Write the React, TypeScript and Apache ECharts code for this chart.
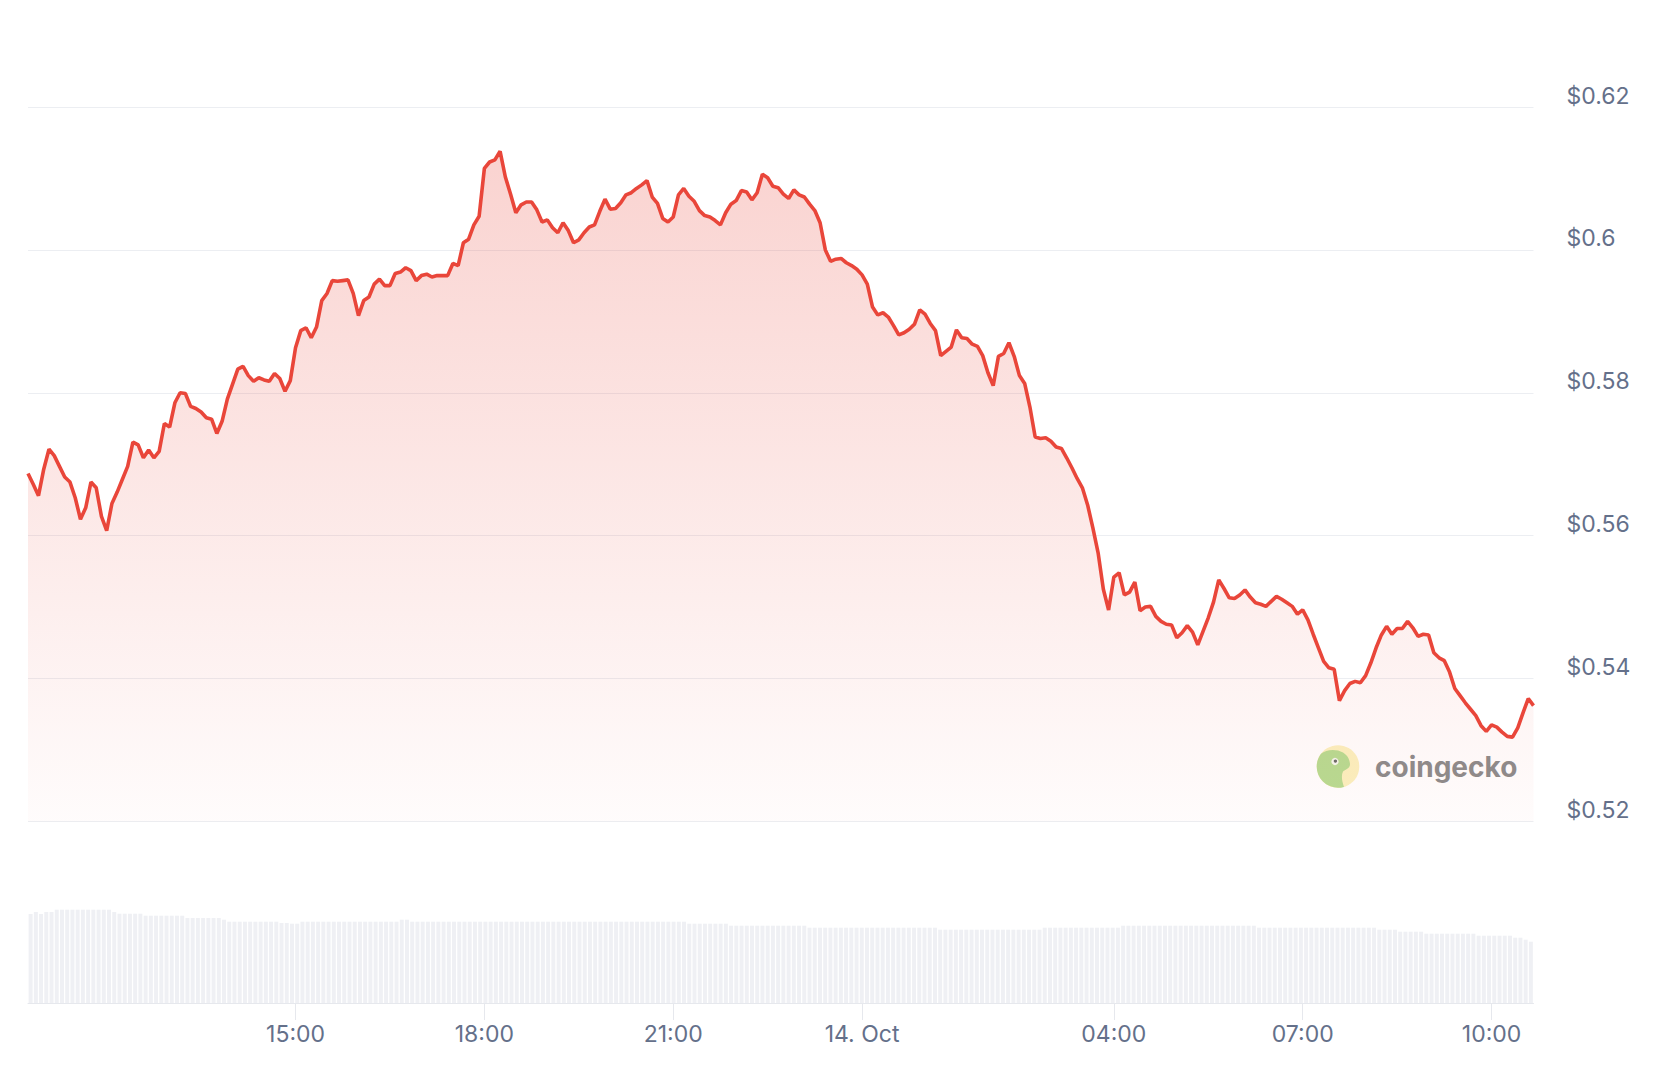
import React, { useEffect, useRef } from 'react';
import * as echarts from 'echarts';

// Price (USD), one point every 5 minutes from 13 Oct 10:45 to 14 Oct 10:40
const price = [
  0.5687, 0.5672, 0.5656, 0.5693, 0.5721, 0.5712, 0.5697, 0.5682, 0.5675, 0.5653,
  0.5623, 0.5639, 0.5675, 0.5667, 0.5627, 0.5607, 0.5645, 0.5661, 0.5679, 0.5697,
  0.5731, 0.5727, 0.5709, 0.5720, 0.5709, 0.5718, 0.5757, 0.5752, 0.5786, 0.5800,
  0.5799, 0.5781, 0.5778, 0.5773, 0.5765, 0.5763, 0.5743, 0.5760, 0.5791, 0.5812,
  0.5833, 0.5837, 0.5824, 0.5816, 0.5821, 0.5818, 0.5816, 0.5827, 0.5820, 0.5802,
  0.5817, 0.5863, 0.5887, 0.5891, 0.5877, 0.5892, 0.5929, 0.5939, 0.5957, 0.5956,
  0.5957, 0.5958, 0.5939, 0.5908, 0.5929, 0.5934, 0.5952, 0.5959, 0.5950, 0.5950,
  0.5967, 0.5969, 0.5975, 0.5971, 0.5957, 0.5964, 0.5966, 0.5962, 0.5964, 0.5964,
  0.5964, 0.5981, 0.5978, 0.6010, 0.6015, 0.6035, 0.6047, 0.6114, 0.6123, 0.6126,
  0.6138, 0.6102, 0.6078, 0.6052, 0.6063, 0.6067, 0.6067, 0.6056, 0.6039, 0.6042,
  0.6031, 0.6024, 0.6038, 0.6027, 0.6010, 0.6014, 0.6024, 0.6032, 0.6035, 0.6054,
  0.6071, 0.6057, 0.6058, 0.6066, 0.6077, 0.6080, 0.6086, 0.6091, 0.6097, 0.6074,
  0.6065, 0.6044, 0.6039, 0.6046, 0.6077, 0.6086, 0.6075, 0.6068, 0.6055, 0.6048,
  0.6046, 0.6041, 0.6035, 0.6052, 0.6064, 0.6069, 0.6083, 0.6081, 0.6070, 0.6080,
  0.6106, 0.6101, 0.6089, 0.6087, 0.6078, 0.6072, 0.6084, 0.6077, 0.6074, 0.6064,
  0.6055, 0.6038, 0.6000, 0.5984, 0.5987, 0.5988, 0.5982, 0.5978, 0.5973, 0.5965,
  0.5952, 0.5920, 0.5909, 0.5912, 0.5906, 0.5894, 0.5881, 0.5884, 0.5889, 0.5896,
  0.5916, 0.5910, 0.5897, 0.5887, 0.5852, 0.5858, 0.5864, 0.5888, 0.5877, 0.5876,
  0.5868, 0.5865, 0.5852, 0.5828, 0.5810, 0.5851, 0.5855, 0.5870, 0.5851, 0.5824,
  0.5813, 0.5780, 0.5738, 0.5736, 0.5737, 0.5732, 0.5724, 0.5722, 0.5709, 0.5695,
  0.5680, 0.5667, 0.5643, 0.5611, 0.5576, 0.5525, 0.5496, 0.5542, 0.5548, 0.5517,
  0.5521, 0.5535, 0.5495, 0.5500, 0.5501, 0.5487, 0.5480, 0.5476, 0.5475, 0.5457,
  0.5464, 0.5474, 0.5465, 0.5447, 0.5466, 0.5485, 0.5507, 0.5538, 0.5526, 0.5513,
  0.5512, 0.5517, 0.5524, 0.5514, 0.5506, 0.5504, 0.5501, 0.5508, 0.5515, 0.5511,
  0.5506, 0.5501, 0.5490, 0.5496, 0.5482, 0.5462, 0.5443, 0.5424, 0.5415, 0.5413,
  0.5369, 0.5383, 0.5393, 0.5396, 0.5394, 0.5404, 0.5422, 0.5443, 0.5461, 0.5473,
  0.5462, 0.5470, 0.5470, 0.5480, 0.5471, 0.5459, 0.5462, 0.5461, 0.5436, 0.5429,
  0.5425, 0.5409, 0.5386, 0.5376, 0.5366, 0.5357, 0.5348, 0.5334, 0.5326, 0.5335,
  0.5332, 0.5325, 0.5319, 0.5318, 0.5331, 0.5352, 0.5372, 0.5362,
];

// Volume (relative units), same timestamps as price
const volume = [
  89, 91, 89, 91, 91, 93.3, 93.3, 93.3, 93.3, 93.3,
  93.3, 93.3, 93.3, 93.3, 93.3, 93.3, 91, 89.3, 89.3, 89.3,
  89.3, 89.3, 87.3, 87.3, 87.3, 87.3, 87.3, 87.3, 87.3, 87.3,
  85, 85, 85, 85, 85, 85, 85, 83.3, 81.3, 81.3,
  81.3, 81.3, 81.3, 81.3, 81.3, 81.3, 81.3, 81.3, 80, 80,
  79.3, 79.3, 81.3, 81.3, 81.3, 81.3, 81.3, 81.3, 81.3, 81.3,
  81.3, 81.3, 81.3, 81.3, 81.3, 81.3, 81.3, 81.3, 81.3, 81.3,
  81.3, 83.3, 83.3, 81.3, 81.3, 81.3, 81.3, 81.3, 81.3, 81.3,
  81.3, 81.3, 81.3, 81.3, 81.3, 81.3, 81.3, 81.3, 81.3, 81.3,
  81.3, 81.3, 81.3, 81.3, 81.3, 81.3, 81.3, 81.3, 81.3, 81.3,
  81.3, 81.3, 81.3, 81.3, 81.3, 81.3, 81.3, 81.3, 81.3, 81.3,
  81.3, 81.3, 81.3, 81.3, 81.3, 81.3, 81.3, 81.3, 81.3, 81.3,
  81.3, 81.3, 81.3, 81.3, 81.3, 81.3, 79.3, 79.3, 79.3, 79.3,
  79.3, 79.3, 79.3, 79.3, 77.3, 77.3, 77.3, 77.3, 77.3, 77.3,
  77.3, 77.3, 77.3, 77.3, 77.3, 77.3, 77.3, 77.3, 77.3, 75.3,
  75.3, 75.3, 75.3, 75.3, 75.3, 75.3, 75.3, 75.3, 75.3, 75.3,
  75.3, 75.3, 75.3, 75.3, 75.3, 75.3, 75.3, 75.3, 75.3, 75.3,
  75.3, 75.3, 75.3, 75.3, 73.3, 73.3, 73.3, 73.3, 73.3, 73.3,
  73.3, 73.3, 73.3, 73.3, 73.3, 73.3, 73.3, 73.3, 73.3, 73.3,
  73.3, 73.3, 73.3, 73.3, 75.3, 75.3, 75.3, 75.3, 75.3, 75.3,
  75.3, 75.3, 75.3, 75.3, 75.3, 75.3, 75.3, 75.3, 75.3, 77.3,
  77.3, 77.3, 77.3, 77.3, 77.3, 77.3, 77.3, 77.3, 77.3, 77.3,
  77.3, 77.3, 77.3, 77.3, 77.3, 77.3, 77.3, 77.3, 77.3, 77.3,
  77.3, 77.3, 77.3, 77.3, 77.3, 75.3, 75.3, 75.3, 75.3, 75.3,
  75.3, 75.3, 75.3, 75.3, 75.3, 75.3, 75.3, 75.3, 75.3, 75.3,
  75.3, 75.3, 75.3, 75.3, 75.3, 75.3, 75.3, 75.3, 73.3, 73.3,
  73.3, 73.3, 71.3, 71.3, 71.3, 71.3, 71.3, 69.3, 69.3, 69.3,
  69.3, 69.3, 69.3, 69.3, 69.3, 69.3, 69.3, 67.3, 67.3, 67.3,
  67.3, 67.3, 67.3, 67.3, 65.3, 65.3, 63.3, 61.3,
];

// Time of the first point (minutes after midnight, 13 Oct) and spacing
const startMinute = 10 * 60 + 45;
const stepMinutes = 5;

// Axis ticks shown on the time axis
const tickTimes = ['15:00', '18:00', '21:00', '00:00', '04:00', '07:00', '10:00'];
const tickLabels = ['15:00', '18:00', '21:00', '14. Oct', '04:00', '07:00', '10:00'];

// Price axis
const priceMin = 0.52;
const priceMax = 0.62;
const priceStep = 0.02;
const volumeMax = 155;

const categories = price.map((_, i) => {
  const m = (startMinute + i * stepMinutes) % 1440;
  const h = Math.floor(m / 60);
  const mm = m % 60;
  return `${String(h).padStart(2, '0')}:${String(mm).padStart(2, '0')}`;
});

const geckoPath =
  'M -17 -12.8 C -12 -17 -2 -18 5 -14 C 10 -11 12 -6 12 -2 C 12 2 7 3 5 5 C 3 9 4 15 6 20.4 C -1.5 22.6 -9.5 20.6 -15.1 15.1 C -22.6 7.5 -23.4 -4.3 -17 -12.8 Z';

let registered = false;

export default function App() {
  const ref = useRef<HTMLDivElement>(null);

  useEffect(() => {
    if (!ref.current) return;
    if (!registered) {
      echarts.graphic.registerShape('gecko', echarts.graphic.extendPath(geckoPath, {}));
      registered = true;
    }
    const chart = echarts.init(ref.current, null, { renderer: 'svg' });
    const lineColor = '#e9463a';
    const labelColor = '#64708a';
    const font = 'Inter, "Noto Sans", sans-serif';
    const showTick = (_: number, value: string) => tickTimes.includes(value);

    chart.setOption({
      animation: false,
      backgroundColor: '#ffffff',
      grid: [
        { left: 28, right: 144.5, top: 107, bottom: 244.6 },
        { left: 28, right: 144.5, top: 848, bottom: 63 },
      ],
      xAxis: [
        {
          type: 'category',
          gridIndex: 0,
          data: categories,
          boundaryGap: false,
          show: false,
        },
        {
          type: 'category',
          gridIndex: 1,
          data: categories,
          boundaryGap: false,
          axisLine: { show: true, lineStyle: { color: '#e6e8ed', width: 1 } },
          axisTick: {
            show: true,
            interval: showTick,
            length: 17,
            lineStyle: { color: '#e6e8ed', width: 1 },
          },
          axisLabel: {
            interval: showTick,
            formatter: (v: string) => tickLabels[tickTimes.indexOf(v)] ?? '',
            color: labelColor,
            fontSize: 23,
            fontFamily: font,
            margin: 19,
          },
          splitLine: { show: false },
        },
        {
          type: 'category',
          gridIndex: 1,
          data: categories,
          boundaryGap: true,
          show: false,
        },
      ],
      yAxis: [
        {
          type: 'value',
          gridIndex: 0,
          position: 'right',
          min: priceMin,
          max: priceMax,
          interval: priceStep,
          axisLine: { show: false },
          axisTick: { show: false },
          splitLine: { show: true, lineStyle: { color: '#eceef2', width: 1 } },
          axisLabel: {
            formatter: (v: number) => '$' + parseFloat(v.toFixed(2)),
            color: labelColor,
            fontSize: 23,
            fontFamily: font,
            margin: 33,
            verticalAlign: 'bottom',
            align: 'left',
          },
        },
        {
          type: 'value',
          gridIndex: 1,
          min: 0,
          max: volumeMax,
          show: false,
          splitLine: { show: false },
        },
      ],
      series: [
        {
          type: 'bar',
          xAxisIndex: 2,
          yAxisIndex: 1,
          data: volume,
          barCategoryGap: '24%',
          itemStyle: { color: '#eff0f4' },
          silent: true,
        },
        {
          type: 'line',
          xAxisIndex: 0,
          yAxisIndex: 0,
          data: price,
          symbol: 'none',
          lineStyle: { color: lineColor, width: 3.6 },
          areaStyle: {
            origin: 'start',
            color: new echarts.graphic.LinearGradient(0, 0, 0, 1, [
              { offset: 0, color: 'rgba(233,70,58,0.34)' },
              { offset: 1, color: 'rgba(233,70,58,0.025)' },
            ]),
          },
          z: 3,
        },
      ],
      graphic: [
        {
          type: 'group',
          x: 1338,
          y: 766.5,
          z: 10,
          children: [
            { type: 'circle', shape: { cx: 0, cy: 0, r: 21.3 }, style: { fill: '#fbf1bf' } },
            { type: 'gecko', x: 0, y: 0, scaleX: 1, scaleY: 1, style: { fill: '#b7dc92' } },
            { type: 'circle', shape: { cx: -3, cy: -5, r: 3.6 }, style: { fill: '#f4f7ee' } },
            { type: 'circle', shape: { cx: -2.6, cy: -5.4, r: 1.7 }, style: { fill: '#6b6b6b' } },
            {
              type: 'text',
              x: 37,
              y: 0,
              style: {
                text: 'coingecko',
                fill: '#8c8c8c',
                fontSize: 28,
                fontWeight: 'bold',
                fontFamily: font,
                verticalAlign: 'middle',
                align: 'left',
              },
            },
          ],
        },
      ],
    });
    return () => chart.dispose();
  }, []);

  return (
    <div
      ref={ref}
      style={{ position: 'fixed', left: 0, top: 0, width: 1678, height: 1066, background: '#fff' }}
    />
  );
}
